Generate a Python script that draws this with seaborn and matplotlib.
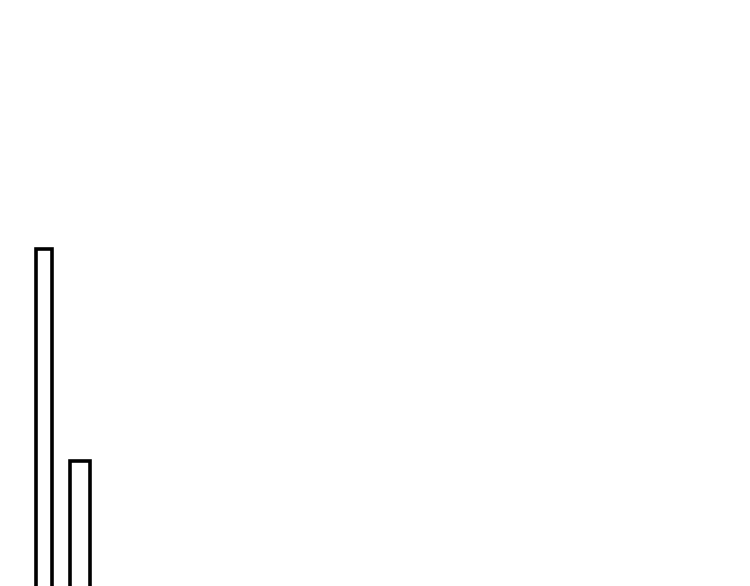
#Barras con contorno negro, recortadas por la parte baja

import seaborn as sns
import matplotlib.pyplot as plt

categorias = ["A", "B"]
valores = [57.8, 21.8]

anchos = [0.45, 0.565]  # ancho de cada barra (estilo)

sns.set_theme(style="white")

fig = plt.figure(figsize=(7.5, 5.86), dpi=100)
ax = fig.add_axes([0, 0, 1, 1])
sns.barplot(x=categorias, y=valores, color="white", saturation=1,
            edgecolor="black", linewidth=2.6, ax=ax)

for barra, w in zip(ax.patches, anchos):
    centro = barra.get_x() + barra.get_width() / 2
    barra.set_width(w)
    barra.set_x(centro - w / 2)

ax.set_xlim(-1.251, 19.93)
ax.set_ylim(0.5, 100)
ax.axis("off")

plt.savefig("out.png", dpi=100, facecolor="white")
